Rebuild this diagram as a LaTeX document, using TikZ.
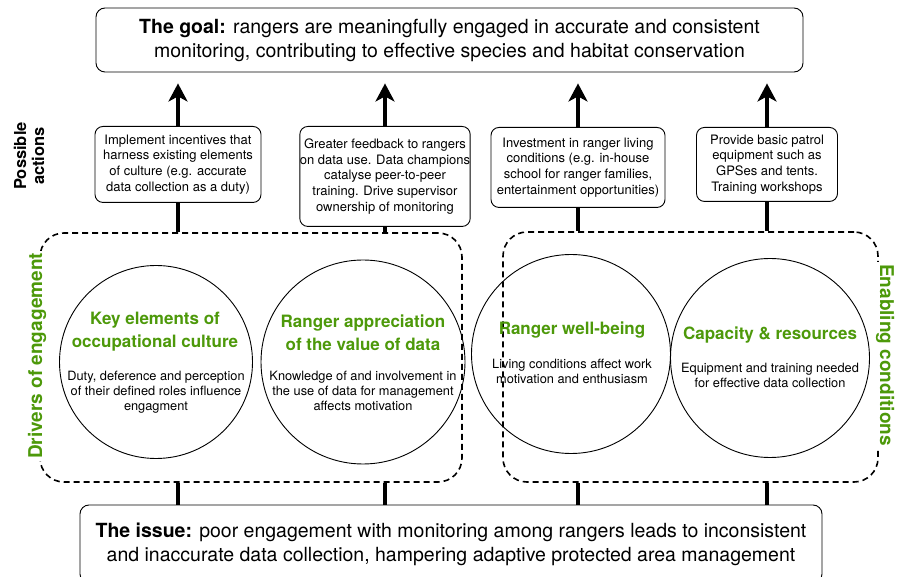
\documentclass[tikz,border=0pt]{standalone}
\usepackage{fontspec}
\setmainfont{TeX Gyre Heros}
\usetikzlibrary{arrows.meta}
\definecolor{vert}{RGB}{77,153,10}

\begin{document}
\begin{tikzpicture}[x=1pt, y=-1pt]
\tikzstyle{but} = [draw, line width=0.9pt, rounded corners=9pt, align=center, inner xsep=0pt, font=\fontsize{19.5}{24}\selectfont];
\tikzstyle{action} = [draw, line width=0.9pt, rounded corners=8pt, align=center, anchor=north, inner xsep=0pt, font=\fontsize{13}{15.7}\selectfont];
\tikzstyle{cadre} = [draw, dash pattern=on 6pt off 4pt, line width=1.6pt, rounded corners=24pt];
\tikzstyle{cercle} = [draw, line width=0.9pt, circle, inner sep=0pt];
\tikzstyle{titre} = [text=vert, align=center, font=\bfseries\fontsize{17}{22.5}\selectfont];
\tikzstyle{corps} = [align=center, font=\fontsize{12.8}{15}\selectfont];
\tikzstyle{etiquette} = [fill=white, inner sep=2pt, align=center];
\tikzstyle{tige} = [line width=3.5pt];
\tikzstyle{fleche} = [tige, -{Stealth[length=18pt, width=19pt, inset=5pt]}, shorten >=11pt];
\clip (0,0) rectangle (903,577);

% goal and issue
\node[but, minimum width=707pt, minimum height=64pt] (goal) at (449.5,40) {\textbf{The goal:} rangers are meaningfully engaged in accurate and consistent\\monitoring, contributing to effective species and habitat conservation};
\node[but, minimum width=742pt, minimum height=78pt] (issue) at (451,544) {\textbf{The issue:} poor engagement with monitoring among rangers leads to inconsistent\\and inaccurate data collection, hampering adaptive protected area management};

% possible actions
\node[rotate=90, align=center, font=\bfseries\fontsize{16.5}{18}\selectfont] (possible) at (29,156) {Possible\\actions};
\node[action, minimum width=166pt, minimum height=76pt] (act1) at (178,126) {Implement incentives that\\harness existing elements\\of culture (e.g. accurate\\data collection as a duty)};
\node[action, minimum width=165pt, minimum height=100pt] (act2) at (385,126) {Greater feedback to rangers\\on data use. Data champions\\catalyse peer-to-peer\\training. Drive supervisor\\ownership of monitoring};
\node[action, minimum width=174pt, minimum height=80pt] (act3) at (578,127) {Investment in ranger living\\conditions (e.g. in-house\\school for ranger families,\\entertainment opportunities)};
\node[action, minimum width=141pt, minimum height=74pt] (act4) at (767,127) {Provide basic patrol\\equipment such as\\GPSes and tents.\\Training workshops};

% dashed groups
\node[cadre, minimum width=422pt, minimum height=249pt] (moteurs) at (251,357.5) {};
\node[cadre, minimum width=375pt, minimum height=250pt] (conditions) at (690.5,357) {};

% circles
\node[cercle, minimum size=193pt] (culture) at (156,362) {};
\node[cercle, minimum size=204pt] (valeur) at (363,362) {};
\node[cercle, minimum size=199pt] (bienetre) at (571,354) {};
\node[cercle, minimum size=199pt] (capacite) at (770,358) {};

\node[titre] (cultureT) at (155,331.5) {Key elements of\\occupational culture};
\node[corps] (cultureB) at (156,392) {Duty, deference and perception\\of their defined roles influence\\engagment};
\node[titre] (valeurT) at (363,332.5) {Ranger appreciation\\of the value of data};
\node[corps] (valeurB) at (363,391) {Knowledge of and involvement in\\the use of data for management\\affects motivation};
\node[titre] (bienetreT) at (572,330) {Ranger well-being};
\node[corps] (bienetreB) at (572,371.5) {Living conditions affect work\\motivation and enthusiasm};
\node[titre] (capaciteT) at (770,335) {Capacity \& resources};
\node[corps] (capaciteB) at (770,375.5) {Equipment  and training needed\\for effective data collection};

% group labels on the dashed edges
\node[etiquette, rotate=90, text=vert, font=\bfseries\fontsize{19}{21}\selectfont] (moteursL) at (37,356) {Drivers of engagement};
\node[etiquette, rotate=-90, text=vert, font=\bfseries\fontsize{19}{21}\selectfont] (conditionsL) at (885,355) {Enabling conditions};

% arrows to the goal
\draw[fleche] (act1.north) -- (act1.north |- goal.south);
\draw[fleche] (act2.north) -- (act2.north |- goal.south);
\draw[fleche] (act3.north) -- (act3.north |- goal.south);
\draw[fleche] (act4.north) -- (act4.north |- goal.south);

% stems down to the groups
\draw[tige] (act1.south) -- (act1.south |- moteurs.north);
\draw[tige] (act2.south) -- (act2.south |- moteurs.north);
\draw[tige] (act3.south) -- (act3.south |- conditions.north);
\draw[tige] (act4.south) -- (act4.south |- conditions.north);

% stems up from the issue
\draw[tige] (act1.south |- issue.north) -- (act1.south |- moteurs.south);
\draw[tige] (act2.south |- issue.north) -- (act2.south |- moteurs.south);
\draw[tige] (act3.south |- issue.north) -- (act3.south |- conditions.south);
\draw[tige] (act4.south |- issue.north) -- (act4.south |- conditions.south);
\end{tikzpicture}
\end{document}
